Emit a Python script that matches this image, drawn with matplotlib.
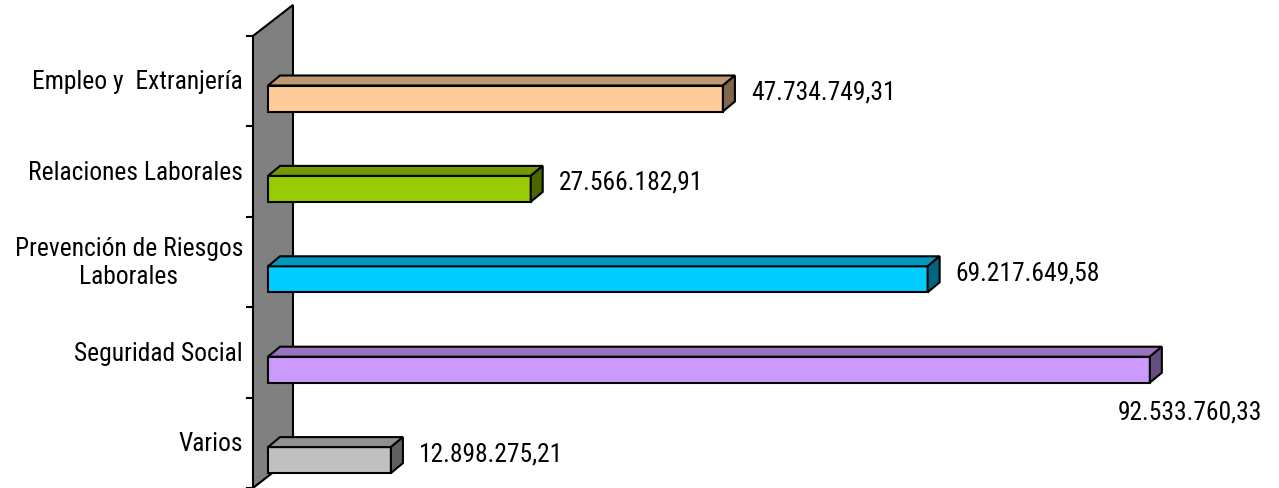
import matplotlib.pyplot as plt
from matplotlib.patches import Polygon
from matplotlib import font_manager as fm
from matplotlib.textpath import TextPath

categorias = ["Empleo y  Extranjería", "Relaciones Laborales",
              "Prevención de Riesgos\nLaborales", "Seguridad Social", "Varios"]
importes = [47734749.31, 27566182.91, 69217649.58, 92533760.33, 12898275.21]
colores = ["#FFCC99", "#99CC00", "#00CCFF", "#CC99FF", "#C0C0C0"]


def fmt(v):
    s = "{:,.2f}".format(v)
    return s.replace(",", "X").replace(".", ",").replace("X", ".")


def shade(c, f):
    c = c.lstrip("#")
    r, g, b = (int(c[i:i + 2], 16) for i in (0, 2, 4))
    return (r * f / 255, g * f / 255, b * f / 255)


# buscar la fuente sans mas estrecha instalada (el original usa Arial Narrow)
muestra = "Relaciones Laborales"
chars = set("".join(categorias) + "0123456789.,")
bases = ["Liberation Sans", "Arial", "DejaVu Sans", "Noto Sans", "Roboto",
         "Open Sans", "Lato", "Inter"]
extras = {"Narrow", "Condensed", "SemiCondensed", "ExtraCondensed", "Semi", "Extra"}
mejor = None
for f in fm.fontManager.ttflist:
    if f.style != "normal" or f.weight not in (400, "normal", "regular"):
        continue
    ok = False
    for b in bases:
        if f.name.startswith(b):
            resto = f.name[len(b):].split()
            if all(w in extras for w in resto):
                ok = True
    if not ok:
        continue
    try:
        cmap = fm.get_font(f.fname).get_charmap()
        if not all(ord(ch) in cmap for ch in chars if ch not in "\n "):
            continue
        prop = fm.FontProperties(fname=f.fname)
        w = TextPath((0, 0), muestra, size=1, prop=prop).get_extents().width
    except Exception:
        continue
    if mejor is None or w < mejor[0]:
        mejor = (w, prop)

if mejor is None:
    fuente = fm.FontProperties(family="Liberation Sans")
    ancho = 9.6
else:
    ancho, fuente = mejor
# tamano para que "Relaciones Laborales" mida ~212 px
tam = min(212 / ancho, 27) * 72 / 100
fuente = fuente.copy()
fuente.set_size(tam)

fig = plt.figure(figsize=(12.79, 4.88), dpi=100)
ax = fig.add_axes([0, 0, 1, 1])

px_x = 9.53e-6        # px por euro
px_y = 90.4           # px por categoria
ax.set_xlim(-268 / px_x, (1279 - 268) / px_x)
ax.set_ylim((488 - 98.5) / px_y, -98.5 / px_y)
ax.axis('off')

dx = 12 / px_x
dy = -10 / px_y
h = 26 / px_y

# pared gris
wf = -15 / px_x
wb = 25 / px_x
wt = -0.692
wbot = wt + 5
wdy = -31 / px_y
pared = Polygon([(wf, wt), (wb, wt + wdy), (wb, wbot + wdy), (wf, wbot)],
                closed=True, facecolor="#808080", edgecolor="black", lw=1.5, zorder=1)
ax.add_patch(pared)
for k in range(6):
    ax.plot([wf - 6 / px_x, wf], [wt + k, wt + k], color="black", lw=1.5, zorder=2)

for i, (cat, v, c) in enumerate(zip(categorias, importes, colores)):
    y0 = i - h / 2
    y1 = i + h / 2
    ax.barh(i, v, height=h, left=0, color=c, edgecolor="black", lw=1.5, zorder=3)
    top = Polygon([(0, y0), (dx, y0 + dy), (v + dx, y0 + dy), (v, y0)],
                  closed=True, facecolor=shade(c, 0.75), edgecolor="black", lw=1.5, zorder=3)
    side = Polygon([(v, y0), (v + dx, y0 + dy), (v + dx, y1 + dy), (v, y1)],
                   closed=True, facecolor=shade(c, 0.5), edgecolor="black", lw=1.5, zorder=3)
    ax.add_patch(top)
    ax.add_patch(side)

    ax.text(-25 / px_x, i - 16 / px_y, cat, ha="right", va="center",
            multialignment="center", linespacing=1.2, fontproperties=fuente)

    if v == max(importes):
        ax.text(v + 112 / px_x, i + 43 / px_y, fmt(v), ha="right", va="center",
                fontproperties=fuente)
    else:
        ax.text(v + 28 / px_x, i - 6 / px_y, fmt(v), ha="left", va="center",
                fontproperties=fuente)

fig.savefig("out.png", dpi=100)
